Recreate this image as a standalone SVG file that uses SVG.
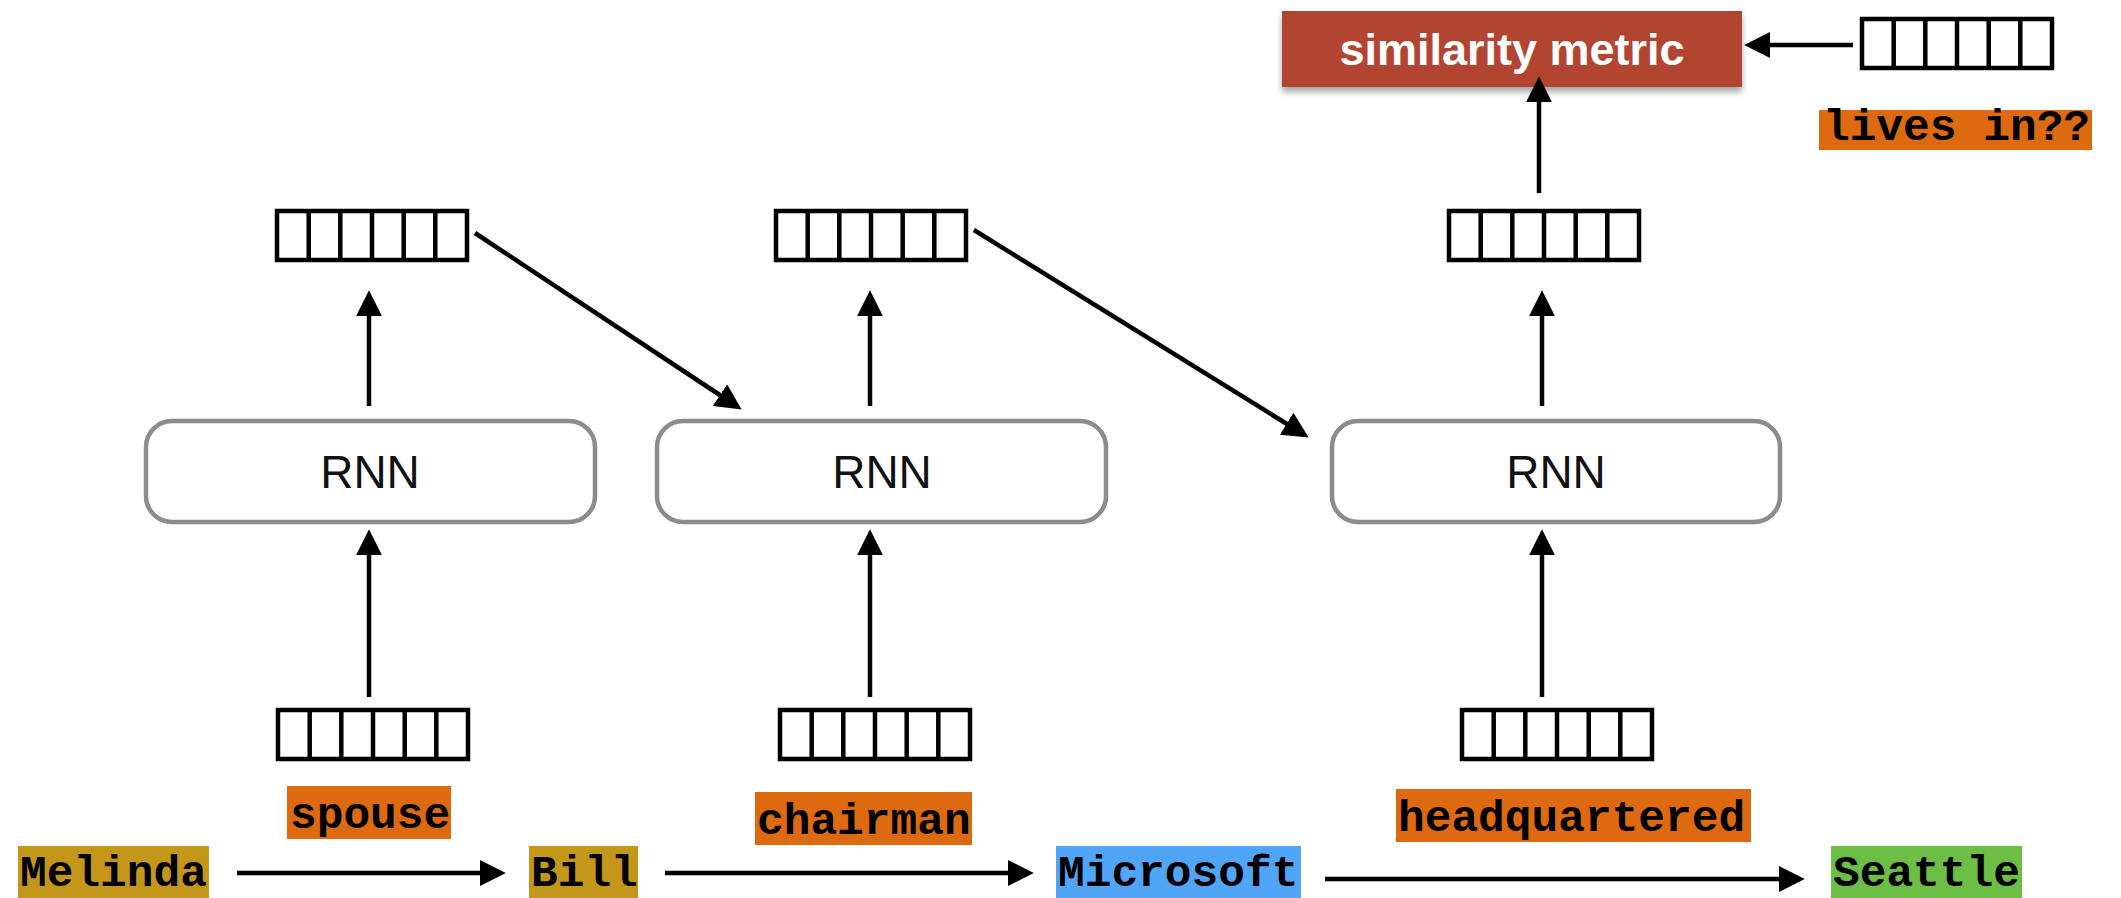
<svg xmlns="http://www.w3.org/2000/svg" width="2121" height="898" viewBox="0 0 2121 898">
<style>
.vec{fill:#fff;stroke:#000;stroke-width:4.5}
.cell{stroke:#000;stroke-width:4.5}
.rnn{fill:#fff;stroke:#8a8c90;stroke-width:4.5}
.rnnt{font-family:"Liberation Sans",Arial,sans-serif;font-size:46px;fill:#111;text-anchor:middle}
.mono{font-family:"Liberation Mono","Courier New",monospace;font-size:44.5px;font-weight:bold;fill:#000}
.conn{stroke:#000;stroke-width:4.5;fill:none;marker-end:url(#ah)}
</style>
<defs>
<marker id="ah" markerUnits="userSpaceOnUse" markerWidth="26" markerHeight="26" refX="5" refY="12.5" orient="auto" viewBox="0 0 25 25">
<path d="M0,0 L25,12.5 L0,25 z" fill="#000"/>
</marker>
<filter id="sh" x="-5%" y="-10%" width="110%" height="140%">
<feDropShadow dx="0" dy="5" stdDeviation="3" flood-color="#000" flood-opacity="0.35"/>
</filter>
<g id="cells">
<rect class="vec" x="0" y="0" width="190" height="49"/>
<line class="cell" x1="31.7" y1="0" x2="31.7" y2="49"/>
<line class="cell" x1="63.3" y1="0" x2="63.3" y2="49"/>
<line class="cell" x1="95" y1="0" x2="95" y2="49"/>
<line class="cell" x1="126.7" y1="0" x2="126.7" y2="49"/>
<line class="cell" x1="158.3" y1="0" x2="158.3" y2="49"/>
</g>
</defs>
<rect width="2121" height="898" fill="#fff"/>

<g id="similarity">
<rect x="1282" y="11" width="460" height="76" fill="#b24433" filter="url(#sh)"/>
<text x="1512" y="65" font-family="Liberation Sans,Arial,sans-serif" font-size="45" font-weight="bold" fill="#fff" text-anchor="middle">similarity metric</text>
</g>

<g id="query-vector"><use href="#cells" x="1862" y="19"/></g>
<g id="lives-in">
<rect x="1819" y="110" width="273" height="40" fill="#dd6911"/>
<text class="mono" x="1823" y="140">lives in??</text>
</g>

<g id="hidden1"><use href="#cells" x="277" y="211"/></g>
<g id="hidden2"><use href="#cells" x="776" y="211"/></g>
<g id="hidden3"><use href="#cells" x="1449" y="211"/></g>

<g id="rnn1">
<rect class="rnn" x="146" y="421" width="449" height="101" rx="26"/>
<text class="rnnt" x="370" y="488">RNN</text>
</g>
<g id="rnn2">
<rect class="rnn" x="657" y="421" width="449" height="101" rx="26"/>
<text class="rnnt" x="882" y="488">RNN</text>
</g>
<g id="rnn3">
<rect class="rnn" x="1332" y="421" width="448" height="101" rx="26"/>
<text class="rnnt" x="1556" y="488">RNN</text>
</g>

<g id="emb1"><use href="#cells" x="278" y="710"/></g>
<g id="emb2"><use href="#cells" x="780" y="710"/></g>
<g id="emb3"><use href="#cells" x="1462" y="710"/></g>

<g id="spouse">
<rect x="287" y="786" width="164" height="53" fill="#dd6911"/>
<text class="mono" x="290" y="828">spouse</text>
</g>
<g id="chairman">
<rect x="755" y="792" width="217" height="53" fill="#dd6911"/>
<text class="mono" x="757" y="834">chairman</text>
</g>
<g id="headquartered">
<rect x="1396" y="789" width="355" height="53" fill="#dd6911"/>
<text class="mono" x="1398" y="831">headquartered</text>
</g>

<g id="melinda">
<rect x="18" y="846" width="191" height="52" fill="#c4971b"/>
<text class="mono" x="20" y="886">Melinda</text>
</g>
<g id="bill">
<rect x="529" y="846" width="109" height="52" fill="#c4971b"/>
<text class="mono" x="531" y="886">Bill</text>
</g>
<g id="microsoft">
<rect x="1056" y="846" width="245" height="52" fill="#50a5f6"/>
<text class="mono" x="1058" y="886">Microsoft</text>
</g>
<g id="seattle">
<rect x="1831" y="846" width="191" height="52" fill="#6cbe45"/>
<text class="mono" x="1833" y="886">Seattle</text>
</g>

<g id="connectors">
<line class="conn" x1="1853" y1="45" x2="1765" y2="45"/>
<line class="conn" x1="1539" y1="193" x2="1539" y2="97"/>
<line class="conn" x1="369" y1="406" x2="369" y2="311"/>
<line class="conn" x1="870" y1="406" x2="870" y2="311"/>
<line class="conn" x1="1542" y1="406" x2="1542" y2="311"/>
<line class="conn" x1="369" y1="697" x2="369" y2="550"/>
<line class="conn" x1="870" y1="697" x2="870" y2="550"/>
<line class="conn" x1="1542" y1="697" x2="1542" y2="550"/>
<line class="conn" x1="475" y1="233" x2="724.3" y2="398"/>
<line class="conn" x1="974" y1="230" x2="1291" y2="426.5"/>
<line class="conn" x1="237" y1="873" x2="485" y2="873"/>
<line class="conn" x1="665" y1="873" x2="1013" y2="873"/>
<line class="conn" x1="1325" y1="879" x2="1784" y2="879"/>
</g>
</svg>
